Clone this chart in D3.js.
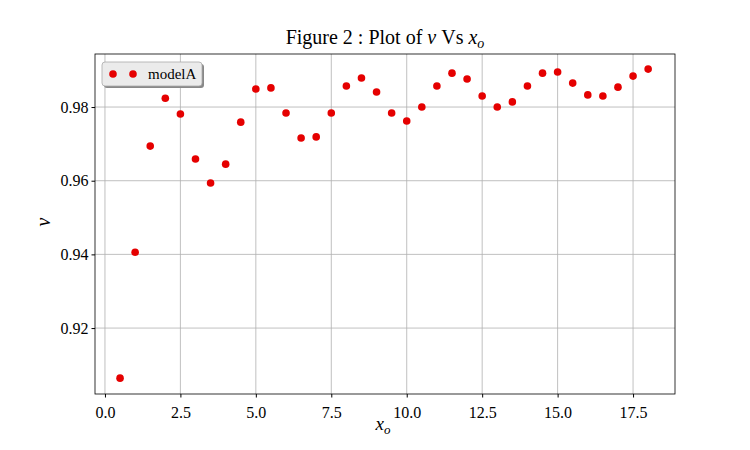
<!DOCTYPE html>
<html><head><meta charset="utf-8">
<script src="https://cdn.jsdelivr.net/npm/d3@7"></script>
<style>
body{margin:0;background:#fff}
text{font-family:"Liberation Serif","DejaVu Serif",serif}
</style></head>
<body><svg id="chart" width="750" height="450"></svg>
<script>
const xs = [0.5,1,1.5,2,2.5,3,3.5,4,4.5,5,5.5,6,6.5,7,7.5,8,8.5,9,9.5,10,10.5,11,11.5,12,12.5,13,13.5,14,14.5,15,15.5,16,16.5,17,17.5,18];
const nu = [0.9064,0.9406,0.9694,0.9824,0.9781,0.9659,0.9594,0.9645,0.9759,0.9849,0.9852,0.9784,0.9716,0.9719,0.9784,0.9857,0.9879,0.9841,0.9784,0.9762,0.9800,0.9857,0.9892,0.9876,0.9830,0.9800,0.9814,0.9857,0.9892,0.9895,0.9865,0.9833,0.9830,0.9854,0.9884,0.9903];
const xTicks = [0,2.5,5,7.5,10,12.5,15,17.5];
const yTicks = [0.92,0.94,0.96,0.98];

const m = {left:95, right:675, top:54, bottom:394};
const svg = d3.select('#chart');
const x = d3.scaleLinear().domain([-0.33,18.89]).range([m.left,m.right]);
const y = d3.scaleLinear().domain([0.9021,0.9944]).range([m.bottom,m.top]);

// grid
svg.append('g').selectAll('line').data(xTicks).join('line')
  .attr('x1',d=>x(d)).attr('x2',d=>x(d)).attr('y1',m.top).attr('y2',m.bottom)
  .attr('stroke','#b0b0b0').attr('stroke-width',0.8);
svg.append('g').selectAll('line').data(yTicks).join('line')
  .attr('y1',d=>y(d)).attr('y2',d=>y(d)).attr('x1',m.left).attr('x2',m.right)
  .attr('stroke','#b0b0b0').attr('stroke-width',0.8);

const xa = svg.append('g').attr('transform',`translate(0,${m.bottom})`)
  .call(d3.axisBottom(x).tickValues(xTicks).tickFormat(d3.format('.1f')).tickSizeOuter(0).tickSize(3.5));
const ya = svg.append('g').attr('transform',`translate(${m.left},0)`)
  .call(d3.axisLeft(y).tickValues(yTicks).tickFormat(d3.format('.2f')).tickSizeOuter(0).tickSize(3.5));
[xa,ya].forEach(a=>{a.select('.domain').remove();a.selectAll('text').attr('font-size',16).attr('fill','#000').style('font-family','"Liberation Serif",serif');});
xa.selectAll('text').attr('dy','1.1em');

svg.append('rect').attr('x',m.left).attr('y',m.top).attr('width',m.right-m.left).attr('height',m.bottom-m.top)
  .attr('fill','none').attr('stroke','#000').attr('stroke-width',0.8);

svg.append('g').selectAll('circle').data(xs).join('circle')
  .attr('cx',d=>x(d)).attr('cy',(d,i)=>y(nu[i])).attr('r',3.8).attr('fill','#e50000');

// title & labels
const t = svg.append('text').attr('x',385).attr('y',44).attr('text-anchor','middle').attr('font-size',20);
t.append('tspan').text('Figure 2 : Plot of ');
t.append('tspan').attr('font-style','italic').text('ν');
t.append('tspan').text(' Vs ');
t.append('tspan').attr('font-style','italic').text('x');
t.append('tspan').attr('font-style','italic').attr('font-size',14).attr('dy',4).text('o');

const xl = svg.append('text').attr('x',383).attr('y',430).attr('text-anchor','middle').attr('font-size',19).attr('font-style','italic');
xl.append('tspan').text('x');
xl.append('tspan').attr('font-size',13).attr('dy',4).text('o');
svg.append('text').attr('transform','translate(50,222) rotate(-90)').attr('text-anchor','middle')
  .attr('font-size',20).attr('font-style','italic').text('ν');

// legend
const lg = svg.append('g').attr('transform','translate(102,62)');
lg.append('rect').attr('x',2).attr('y',2).attr('width',100).attr('height',24).attr('rx',3).attr('fill','#888');
lg.append('rect').attr('width',100).attr('height',24).attr('rx',3).attr('fill','#ebebeb').attr('stroke','#aaa').attr('stroke-width',0.8);
lg.selectAll('circle').data([11,31]).join('circle').attr('cx',d=>d).attr('cy',12).attr('r',3.8).attr('fill','#e50000');
lg.append('text').attr('x',46).attr('y',17).attr('font-size',15).text('modelA');
</script></body></html>
